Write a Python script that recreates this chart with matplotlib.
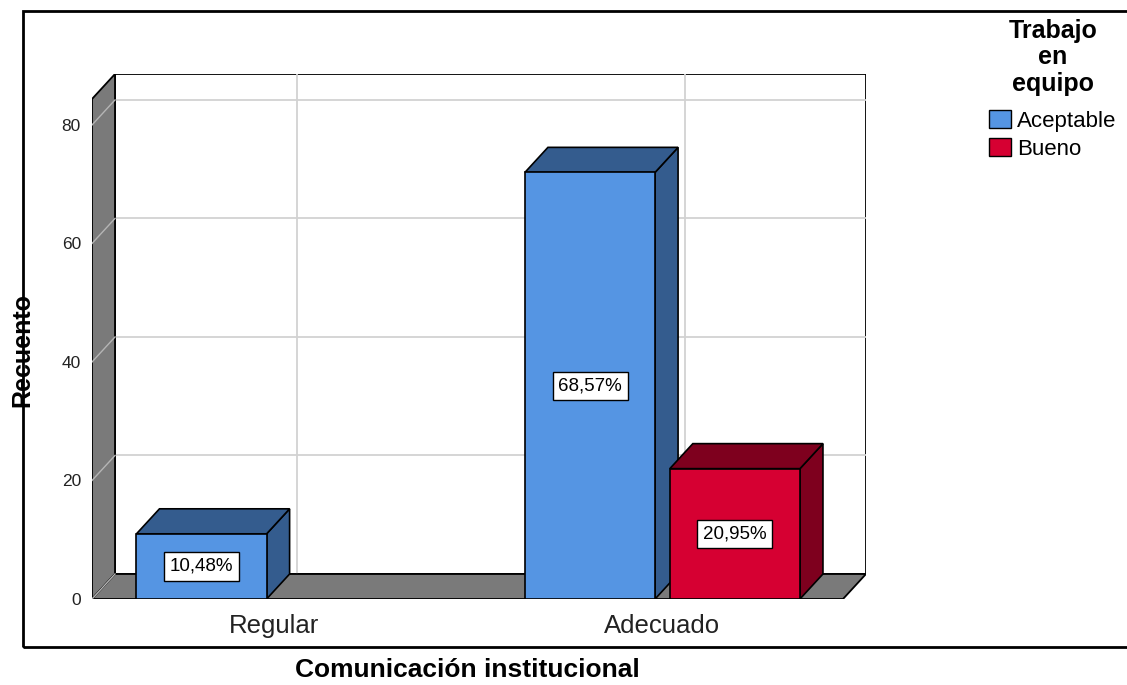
import numpy as np
import matplotlib
matplotlib.use("Agg")
import matplotlib.pyplot as plt
from matplotlib.patches import Polygon, Rectangle, Patch

plt.rcParams['font.family'] = ['Liberation Sans', 'DejaVu Sans']

# counts per category / group (N = 105)
categorias = ['Regular', 'Adecuado']
grupos = ['Aceptable', 'Bueno']
conteos = np.array([[11, 0],
                    [72, 22]])
total = conteos.sum()
yticks = [0, 20, 40, 60, 80]

cara = ['#5595E3', '#D60032']
oscuro = ['#345C8E', '#7E001E']
gris = '#7A7A7A'
rejilla = '#D2D2D2'

# 3d box geometry (data units)
ancho = 0.335
hueco = 0.038
dx, dy = 0.0592, 4.22
x_izq, x_der = -0.4685, 1.524
y_max = 88.6

fig = plt.figure(figsize=(11.27, 6.85), dpi=100)
ax = fig.add_axes([92 / 1127, 86 / 685, 774 / 1127, 525 / 685])
ax.set_xlim(x_izq, x_der)
ax.set_ylim(0, y_max)
for s in ax.spines.values():
    s.set_visible(False)

# back wall
ax.add_patch(Polygon([(x_izq + dx, dy), (x_izq + dx, y_max), (x_der, y_max), (x_der, dy)],
                     closed=True, fc='white', ec='black', lw=1.3, zorder=1))
for v in yticks[1:]:
    ax.plot([x_izq + dx, x_der], [v + dy, v + dy], color=rejilla, lw=1.3, zorder=2)
for i in range(len(categorias)):
    ax.plot([i + dx, i + dx], [dy, y_max], color=rejilla, lw=1.3, zorder=2)

# left wall
ax.add_patch(Polygon([(x_izq, 0), (x_izq, y_max - dy), (x_izq + dx, y_max), (x_izq + dx, dy)],
                     closed=True, fc=gris, ec='black', lw=1.3, zorder=3))
for v in yticks:
    ax.plot([x_izq, x_izq + dx], [v, v + dy], color='#B5B5B5', lw=1.0, zorder=4)

# floor
ax.add_patch(Polygon([(x_izq, 0), (x_izq + dx, dy), (x_der, dy), (x_der - dx, 0)],
                     closed=True, fc=gris, ec='black', lw=1.3, zorder=3))

# bars
z = 5
for i, cat in enumerate(categorias):
    for j, grp in enumerate(grupos):
        h = conteos[i, j]
        if h == 0:
            continue
        x0 = i + (j - 0.5) * (ancho + hueco) - ancho / 2
        ax.add_patch(Polygon([(x0 + ancho, 0), (x0 + ancho + dx, dy), (x0 + ancho + dx, h + dy), (x0 + ancho, h)],
                             closed=True, fc=oscuro[j], ec='black', lw=1.2, zorder=z))
        ax.add_patch(Polygon([(x0, h), (x0 + dx, h + dy), (x0 + ancho + dx, h + dy), (x0 + ancho, h)],
                             closed=True, fc=oscuro[j], ec='black', lw=1.2, zorder=z))
        ax.add_patch(Rectangle((x0, 0), ancho, h, fc=cara[j], ec='black', lw=1.2, zorder=z + 0.5))
        pct = f"{100 * h / total:.2f}%".replace('.', ',')
        ax.text(x0 + ancho / 2, h / 2, pct, ha='center', va='center', fontsize=13.5, zorder=z + 1,
                bbox=dict(boxstyle='square,pad=0.3', fc='white', ec='black', lw=1.0))
        z += 2

ax.set_yticks(yticks)
ax.set_yticklabels([str(v) for v in yticks], fontsize=12.5, color='#222222')
ax.set_xticks(range(len(categorias)))
ax.set_xticklabels(categorias, fontsize=18.5, color='#222222')
ax.tick_params(axis='y', length=0, pad=8)
ax.tick_params(axis='x', length=0, pad=10.5)

fig.text(22 / 1127, 1 - 350 / 685, 'Recuento', rotation=90, ha='center', va='center',
         fontsize=18, fontweight='bold')
fig.text(467 / 1127, 1 - 670 / 685, 'Comunicación institucional', ha='center', va='center',
         fontsize=19, fontweight='bold')

# legend
fig.text(1053 / 1127, 1 - 19 / 685, 'Trabajo\nen\nequipo', ha='center', va='top',
         fontsize=18, fontweight='bold', linespacing=1.12, multialignment='center')
manejadores = [Patch(fc=cara[j], ec='black', lw=1.0) for j in range(len(grupos))]
fig.legend(manejadores, grupos, loc='upper left', bbox_to_anchor=(989 / 1127, 1 - 110 / 685),
           frameon=False, fontsize=16, borderpad=0, borderaxespad=0, handlelength=1.0,
           handleheight=0.85, handletextpad=0.25, labelspacing=0.3)

# outer frame
fig.add_artist(Rectangle((22.5 / 1127, 38 / 685), 1.2, 636 / 685, transform=fig.transFigure,
                         fill=False, ec='black', lw=2.0))

fig.savefig('out.png', dpi=100)
